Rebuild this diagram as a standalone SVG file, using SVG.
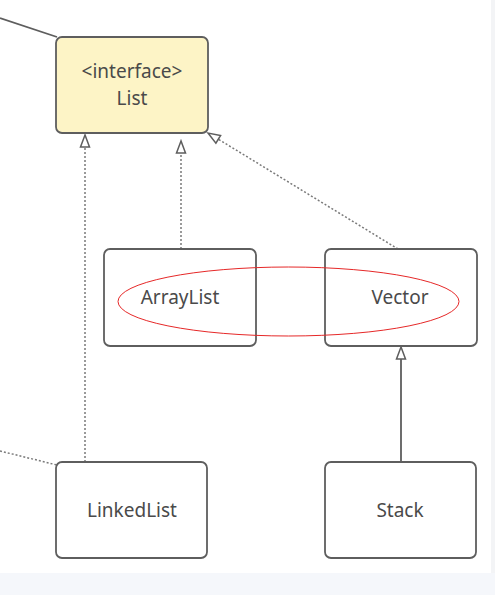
<svg xmlns="http://www.w3.org/2000/svg" width="495" height="595" viewBox="0 0 495 595">
  <style>
    .box { fill: #ffffff; stroke: #5e5e5e; stroke-width: 1.8; }
    .iface { fill: #fdf4c6; }
    .label { font-family: "Noto Sans", "Open Sans", "DejaVu Sans", sans-serif; font-size: 19px; fill: #4a4a4a; text-anchor: middle; dominant-baseline: central; }
    .solid { fill: none; stroke: #5e5e5e; stroke-width: 1.8; }
    .dotted { fill: none; stroke: #7a7a7a; stroke-width: 1.5; stroke-dasharray: 2 2; }
    .head { fill: #ffffff; stroke: #5e5e5e; stroke-width: 1.5; stroke-linejoin: miter; }
  </style>
  <defs>
    <!-- hollow triangle pointing in +x direction, tip at origin -->
    <polygon id="tri" points="0,0 -12,-4.5 -12,4.5"/>
  </defs>

  <rect x="0" y="0" width="495" height="595" fill="#ffffff"/>
  <!-- page margins -->
  <rect x="0" y="573" width="495" height="22" fill="#f5f7fb"/>
  <rect x="491" y="0" width="4" height="573" fill="#f3f4f6"/>

  <g id="connectors">
    <line class="solid" x1="0" y1="18" x2="57" y2="37"/>
    <line class="dotted" x1="0" y1="451" x2="57" y2="465"/>
    <line class="dotted" x1="85" y1="462" x2="85" y2="147"/>
    <use href="#tri" class="head" transform="translate(85,135) rotate(-90)"/>
    <line class="dotted" x1="181" y1="249" x2="181" y2="153"/>
    <use href="#tri" class="head" transform="translate(181,141) rotate(-90)"/>
    <line class="dotted" x1="398" y1="249" x2="218" y2="139"/>
    <use href="#tri" class="head" transform="translate(208,133) rotate(-148.6)"/>
    <line class="solid" x1="401" y1="462" x2="401" y2="359"/>
    <use href="#tri" class="head" transform="translate(401,347) rotate(-90)"/>
  </g>

  <g id="list">
    <rect class="box iface" x="56" y="37" width="152" height="96" rx="6"/>
    <text class="label" x="132" y="71">&lt;interface&gt;</text>
    <text class="label" x="132" y="98">List</text>
  </g>

  <g id="arraylist">
    <rect class="box" x="104" y="249" width="152" height="97" rx="6"/>
    <text class="label" x="180" y="297">ArrayList</text>
  </g>

  <g id="vector">
    <rect class="box" x="325" y="249" width="152" height="97" rx="6"/>
    <text class="label" x="400" y="297">Vector</text>
  </g>

  <g id="linkedlist">
    <rect class="box" x="56" y="462" width="151" height="96" rx="6"/>
    <text class="label" x="132" y="510">LinkedList</text>
  </g>

  <g id="stack">
    <rect class="box" x="325" y="462" width="151" height="96" rx="6"/>
    <text class="label" x="400" y="510">Stack</text>
  </g>

  <g id="highlight">
    <ellipse cx="288.5" cy="301.5" rx="170.5" ry="34.5" fill="none" stroke="#e62828" stroke-width="1"/>
  </g>
</svg>
